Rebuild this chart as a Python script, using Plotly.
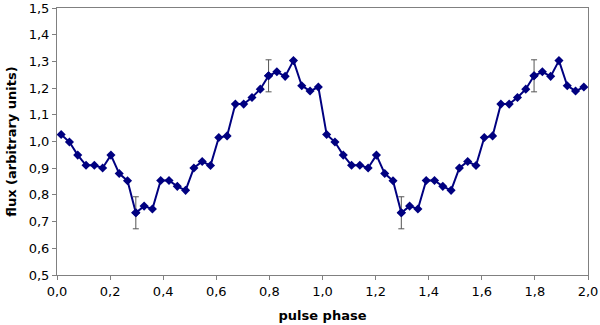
import plotly.graph_objects as go

# one period of the pulse profile, 32 bins, shown twice
profile = [1.026, 0.998, 0.949, 0.911, 0.911, 0.901, 0.949, 0.880,
           0.853, 0.733, 0.758, 0.747, 0.854, 0.854, 0.832, 0.817,
           0.901, 0.925, 0.910, 1.015, 1.021, 1.140, 1.140, 1.165,
           1.196, 1.246, 1.261, 1.244, 1.303, 1.209, 1.189, 1.204]
nbins = 32
phase = [(k + 0.5) / nbins for k in range(2 * nbins)]
flux = profile + profile

# bins carrying an error bar, and its half-length
err_bins = [9, 25, 41, 57]
err_size = 0.06

fig = go.Figure()
fig.add_trace(go.Scatter(x=phase, y=flux, mode='lines+markers',
                         line=dict(color='#000080', width=2),
                         marker=dict(symbol='diamond', size=7, color='#000080'),
                         showlegend=False))
fig.add_trace(go.Scatter(x=[phase[i] for i in err_bins], y=[flux[i] for i in err_bins],
                         mode='markers', marker=dict(size=7, symbol='diamond', color='#000080'),
                         error_y=dict(type='constant', value=err_size, color='#555555',
                                      thickness=1, width=3),
                         showlegend=False))

fig.update_layout(width=600, height=325, plot_bgcolor='white', paper_bgcolor='white',
                  margin=dict(l=57, r=12, t=8, b=50), separators=',.',
                  font=dict(family='DejaVu Sans', size=13, color='black'))
fig.update_xaxes(range=[0, 2], dtick=0.2, tickformat='.1f', showgrid=False, zeroline=False,
                 showline=True, linecolor='#808080', linewidth=1, mirror=True,
                 ticks='outside', ticklen=4, tickcolor='#808080', automargin=False,
                 title=dict(text='<b>pulse phase</b>', standoff=13, font=dict(size=13)))
fig.update_yaxes(range=[0.5, 1.5], dtick=0.1, tickformat='.1f', showgrid=False, zeroline=False,
                 showline=True, linecolor='#808080', linewidth=1, mirror=True,
                 ticks='outside', ticklen=4, tickcolor='#808080', automargin=False,
                 title=dict(text='<b>flux (arbitrary units)</b>', standoff=9, font=dict(size=13)))

# drop the default page margin so the figure sits at the window's corner
fig.write_html("out.html", config={'displayModeBar': False},
               post_script="document.body.style.margin='0';")
